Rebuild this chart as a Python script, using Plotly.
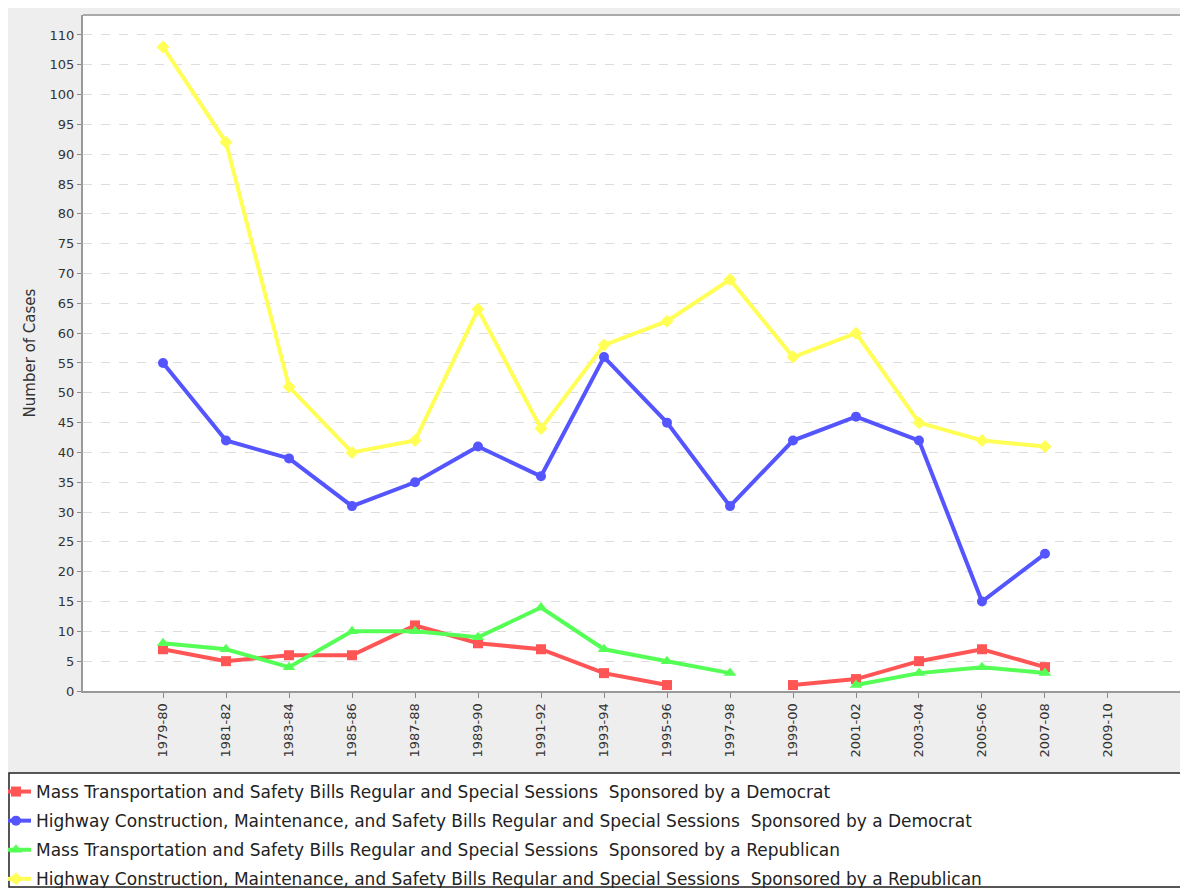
import plotly.graph_objects as go

categories = ["1979-80", "1981-82", "1983-84", "1985-86", "1987-88", "1989-90",
              "1991-92", "1993-94", "1995-96", "1997-98", "1999-00", "2001-02",
              "2003-04", "2005-06", "2007-08", "2009-10"]

mass_dem = [7, 5, 6, 6, 11, 8, 7, 3, 1, None, 1, 2, 5, 7, 4, None]
highway_dem = [55, 42, 39, 31, 35, 41, 36, 56, 45, 31, 42, 46, 42, 15, 23, None]
mass_rep = [8, 7, 4, 10, 10, 9, 14, 7, 5, 3, None, 1, 3, 4, 3, None]
highway_rep = [108, 92, 51, 40, 42, 64, 44, 58, 62, 69, 56, 60, 45, 42, 41, None]

names = [
    "Mass Transportation and Safety Bills Regular and Special Sessions  Sponsored by a Democrat",
    "Highway Construction, Maintenance, and Safety Bills Regular and Special Sessions  Sponsored by a Democrat",
    "Mass Transportation and Safety Bills Regular and Special Sessions  Sponsored by a Republican",
    "Highway Construction, Maintenance, and Safety Bills Regular and Special Sessions  Sponsored by a Republican",
]
series = [mass_dem, highway_dem, mass_rep, highway_rep]
colors = ["#FF5555", "#5555FF", "#55FF55", "#FFFF55"]
symbols = ["square", "circle", "triangle-up", "diamond"]
sizes = [10, 10, 11, 10]

fig = go.Figure()
for i, (name, vals, col, sym, sz) in enumerate(zip(names, series, colors, symbols, sizes)):
    fig.add_trace(go.Scatter(
        x=categories, y=vals, name=name, mode="lines+markers",
        line=dict(color=col, width=4), connectgaps=False,
        marker=dict(symbol=sym, size=sz, color=col),
        legendgroup="g%d" % i,
    ))

# page body has an 8px margin; figure coordinates below are page pixels minus 8
OFF = 8
W, H = 1188 - OFF, 888 - OFF
L, R, T, B = 83 - OFF, 0, 15 - OFF, 888 - 691
pw, ph = W - L - R, H - T - B

def px_x(p):
    return (p - OFF - L) / pw

def px_y(p):
    return (H - B - (p - OFF)) / ph

fig.add_shape(type="rect", xref="paper", yref="paper",
              x0=px_x(9), x1=px_x(1187), y0=px_y(887), y1=px_y(773),
              line=dict(color="#222222", width=1.5), fillcolor="white", layer="below")

fig.update_layout(
    width=W, height=H,
    margin=dict(l=L, r=R, t=T, b=B, autoexpand=False),
    paper_bgcolor="#EEEEEE",
    plot_bgcolor="white",
    font=dict(family="DejaVu Sans", size=13, color="#333333"),
    showlegend=True,
    legend=dict(
        x=px_x(-4), y=px_y(774), xanchor="left", yanchor="top",
        bgcolor="rgba(0,0,0,0)", borderwidth=0,
        font=dict(family="DejaVu Sans", size=17, color="#222222"),
        itemwidth=30, tracegroupgap=4,
    ),
    xaxis=dict(
        type="category", range=[-1.27, 16.27],
        tickangle=-90, ticks="outside", ticklen=5, tickcolor="#888888",
        showgrid=False, showline=True, linecolor="#999999", linewidth=2,
        tickfont=dict(size=13, color="#333333"), zeroline=False,
    ),
    yaxis=dict(
        range=[0, 113.35], tickmode="linear", tick0=0, dtick=5,
        ticks="outside", ticklen=4, tickcolor="#888888",
        showgrid=True, gridcolor="#DDDDDD", griddash="dash", gridwidth=1,
        showline=True, linecolor="#999999", linewidth=2, mirror=False,
        zeroline=False,
        tickfont=dict(size=13, color="#333333"),
        title=dict(text="Number of Cases", font=dict(size=15, color="#333333"), standoff=10),
    ),
)
fig.add_shape(type="line", xref="paper", yref="paper", x0=0, x1=1, y0=1, y1=1,
              line=dict(color="#AAAAAA", width=2))

fig.write_html("out.html")
